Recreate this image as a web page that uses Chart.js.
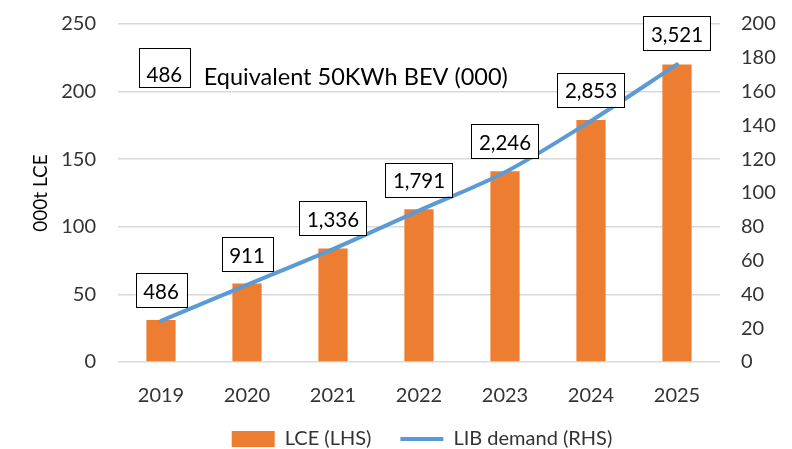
<!DOCTYPE html>
<html>
<head>
<meta charset="utf-8">
<script src="https://cdn.jsdelivr.net/npm/chart.js@4"></script>
<style>
  html, body { margin: 0; padding: 0; background: #fff; overflow: hidden; }
  #wrap { width: 792px; height: 449px; }
</style>
</head>
<body>
<div id="wrap"><canvas id="myChart" width="792" height="449"></canvas></div>
<script>
// data
var years = ['2019', '2020', '2021', '2022', '2023', '2024', '2025'];
var lceValues = [31, 58, 84, 113, 141, 179, 220];          // 000t LCE (left axis)
var libDemand = [24.3, 45.6, 66.8, 89.6, 112.3, 142.7, 176.1]; // GWh (right axis)
var bevLabels = ['486', '911', '1,336', '1,791', '2,246', '2,853', '3,521'];
var keyLabel = '486';
var keyText = 'Equivalent 50KWh BEV (000)';

var FONT = 'Lato, "Open Sans", sans-serif';

// legend takes little room in the layout, then gets moved so its
// item row sits low and a bit right of the canvas centre
var legendPlace = {
  id: 'legendPlace',
  beforeUpdate: function(chart) {
    var lg = chart.legend;
    if (lg && !lg._patched) {
      var fit = lg.fit;
      lg.fit = function() {
        fit.call(this);
        this.height = 23;
      };
      lg._patched = true;
    }
  },
  afterLayout: function(chart) {
    var lg = chart.legend;
    lg.top = chart.height - 49;
    lg.height = 49;
    lg.left += 26;
    lg.right += 26;
  }
};

// boxed labels above the line points
var boxLabels = {
  id: 'boxLabels',
  afterDatasetsDraw: function(chart) {
    var ctx = chart.ctx;
    var meta = chart.getDatasetMeta(1);
    ctx.save();
    ctx.font = '20.5px ' + FONT;
    ctx.textAlign = 'center';
    ctx.textBaseline = 'middle';
    ctx.strokeStyle = '#000';
    ctx.lineWidth = 1;
    for (var i = 0; i < meta.data.length; i++) {
      var pt = meta.data[i];
      var w = ctx.measureText(bevLabels[i]).width + 15;
      var h = 34;
      var bottom = pt.y - 14;
      ctx.fillStyle = '#fff';
      ctx.fillRect(pt.x - w / 2, bottom - h, w, h);
      ctx.strokeRect(Math.round(pt.x - w / 2) + 0.5, Math.round(bottom - h) + 0.5, Math.round(w), h);
      ctx.fillStyle = '#000';
      ctx.fillText(bevLabels[i], pt.x, bottom - h / 2 + 2);
    }

    // key in the top left corner
    var a = chart.chartArea;
    var kx = a.left + 21, ky = a.top + 24;
    var kw = ctx.measureText(keyLabel).width + 15;
    ctx.strokeRect(kx + 0.5, ky + 0.5, Math.round(kw), 39);
    ctx.fillText(keyLabel, kx + kw / 2, ky + 27);
    ctx.textAlign = 'left';
    ctx.font = '23.5px ' + FONT;
    ctx.fillText(keyText, kx + kw + 14, ky + 29);
    ctx.restore();
  }
};

function noPad(scale) {
  scale.paddingTop = 0;
  scale.paddingBottom = 0;
}

var ctx = document.getElementById('myChart').getContext('2d');
var myChart = new Chart(ctx, {
  type: 'bar',
  data: {
    labels: years,
    datasets: [{
      label: 'LCE (LHS)',
      data: lceValues,
      backgroundColor: '#ED7D31',
      borderWidth: 0,
      yAxisID: 'y',
      barPercentage: 0.34,
      categoryPercentage: 1,
      pointStyle: 'rect',
      order: 2
    }, {
      type: 'line',
      label: 'LIB demand (RHS)',
      data: libDemand,
      borderColor: '#5B9BD5',
      backgroundColor: '#5B9BD5',
      borderWidth: 4,
      borderCapStyle: 'round',
      pointRadius: 0,
      pointStyle: 'line',
      tension: 0.3,
      yAxisID: 'y1',
      order: 1
    }]
  },
  options: {
    responsive: false,
    animation: false,
    layout: { padding: { top: 24, left: 0, right: 0, bottom: 0 } },
    plugins: {
      tooltip: { enabled: false },
      legend: {
        position: 'bottom',
        labels: {
          usePointStyle: true,
          pointStyleWidth: 43,
          boxHeight: 16,
          padding: 29,
          color: '#333',
          font: { family: FONT, size: 20 },
          sort: function(a, b) { return a.datasetIndex - b.datasetIndex; }
        }
      }
    },
    scales: {
      x: {
        grid: { display: false },
        border: { display: false },
        ticks: { color: '#333', padding: 14, font: { family: FONT, size: 20 } },
        afterFit: function(scale) { scale.height = 64; }
      },
      y: {
        position: 'left',
        min: 0,
        max: 250,
        ticks: { stepSize: 50, color: '#333', padding: 22, font: { family: FONT, size: 20 } },
        grid: { color: '#D9D9D9', lineWidth: 1.5, drawTicks: false },
        border: { display: false },
        title: {
          display: true,
          text: '000t LCE',
          color: '#000',
          padding: { top: 29, bottom: 0 },
          font: { family: FONT, size: 19 }
        },
        afterFit: function(scale) { scale.width = 118; noPad(scale); }
      },
      y1: {
        position: 'right',
        min: 0,
        max: 200,
        ticks: { stepSize: 20, color: '#333', padding: 21, font: { family: FONT, size: 20 } },
        grid: { display: false, drawTicks: false },
        border: { display: false },
        afterFit: function(scale) { scale.width = 72; noPad(scale); }
      }
    }
  },
  plugins: [legendPlace, boxLabels]
});
</script>
</body>
</html>
